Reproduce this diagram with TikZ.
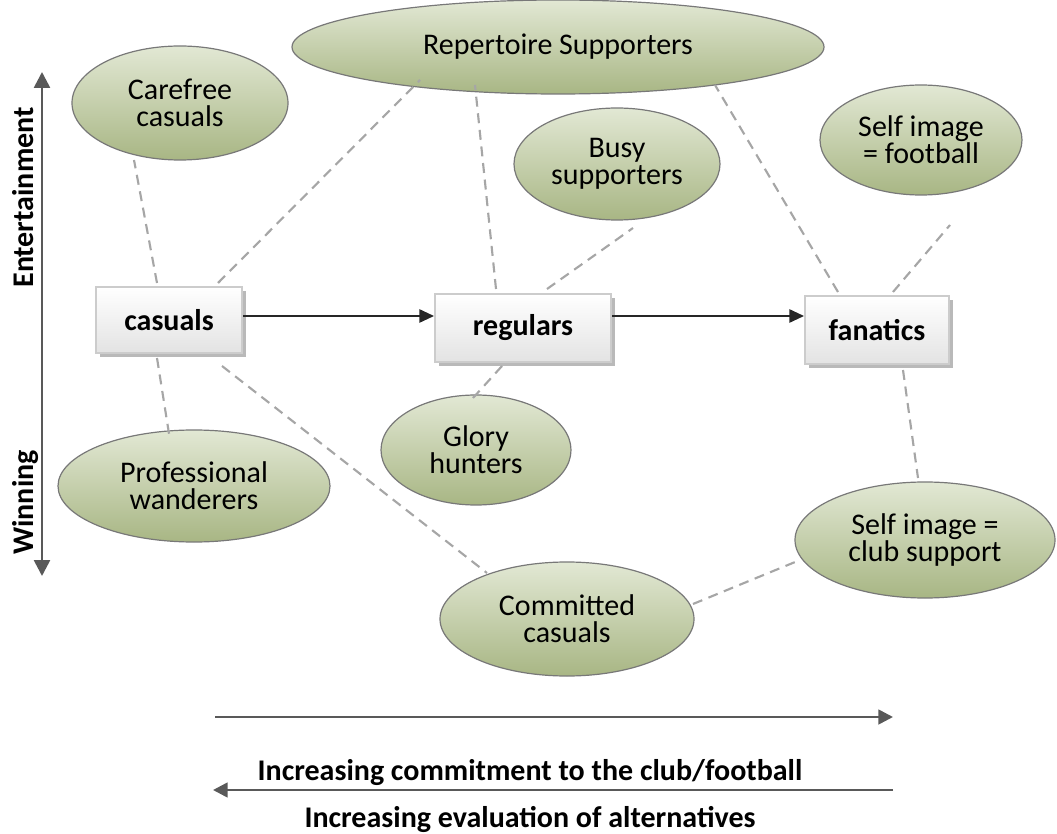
\documentclass[tikz,border=0pt]{standalone}
\usepackage{fontspec}
\setmainfont{Carlito}
\usetikzlibrary{shapes.geometric,arrows.meta,shadows}
\definecolor{segtop}{RGB}{226,232,212}
\definecolor{segbot}{RGB}{168,182,132}
\definecolor{segedge}{RGB}{120,120,120}
\definecolor{linkgray}{RGB}{166,166,166}
\definecolor{axisgray}{RGB}{89,89,89}
\begin{document}
\begin{tikzpicture}[x=0.75pt,y=-0.75pt,
  seg/.style={ellipse,draw=segedge,line width=0.9pt,top color=segtop,bottom color=segbot,
     shading angle=0,inner sep=0pt,align=center,font=\fontsize{22.5}{20.5}\selectfont},
  stage/.style={rectangle,draw=gray!40,line width=1.5pt,top color=white,bottom color=gray!22,
     font=\bfseries\fontsize{22.5}{24}\selectfont,
     drop shadow={shadow xshift=3pt,shadow yshift=-3pt,fill=gray!55,opacity=1}},
  link/.style={draw=linkgray,line width=1.6pt,dash pattern=on 7.5pt off 5pt},
  flow/.style={draw=gray!30!black,line width=1.3pt,-{Triangle[length=11pt,width=10pt]}},
  axis/.style={draw=axisgray,line width=2pt},
  axtext/.style={inner sep=0pt,font=\bfseries\fontsize{22.5}{24}\selectfont}]
\useasboundingbox (0,0) rectangle (1057,834);

% segment ellipses
\node[seg,minimum width=162pt,minimum height=85.5pt] (care) at (180,103) {Carefree\\casuals};
\node[seg,minimum width=399pt,minimum height=70.5pt] (rep) at (558,47) {Repertoire Supporters};
\node[seg,minimum width=154.5pt,minimum height=84pt] (busy) at (617,164) {Busy\\supporters};
\node[seg,minimum width=151.5pt,minimum height=82.5pt] (selff) at (921,140) {Self image\\= football};
\node[seg,minimum width=142.5pt,minimum height=82.5pt] (glory) at (476,450) {Glory\\hunters};
\node[seg,minimum width=204pt,minimum height=84pt] (prof) at (194,486) {Professional\\wanderers};
\node[seg,minimum width=195pt,minimum height=87pt] (selfc) at (925,540) {Self image =\\club support};
\node[seg,minimum width=190.5pt,minimum height=85.5pt] (comm) at (567,619) {Committed\\casuals};

% stage boxes
\node[stage,minimum width=110pt,minimum height=49pt] (cas) at (169,320) {casuals};
\node[stage,minimum width=132pt,minimum height=51pt] (reg) at (523,328) {regulars};
\node[stage,minimum width=108pt,minimum height=51pt] (fan) at (877,330) {fanatics};

% dashed links between stages and segments
\coordinate (c1) at (157,283);  \coordinate (c1e) at (134,160);
\coordinate (c2) at (218,283);  \coordinate (c2e) at (420,80);
\coordinate (c3) at (157,358);  \coordinate (c3e) at (170,440);
\coordinate (c4) at (222,366);  \coordinate (c4e) at (487,573);
\coordinate (r1) at (496,289);  \coordinate (r1e) at (475,85);
\coordinate (r2) at (547,289);  \coordinate (r2e) at (633,228);
\coordinate (r3) at (502,366);  \coordinate (r3e) at (473,398);
\coordinate (f1) at (838,292);  \coordinate (f1e) at (715,85);
\coordinate (f2) at (893,292);  \coordinate (f2e) at (950,225);
\coordinate (f3) at (903,370);  \coordinate (f3e) at (918,478);
\coordinate (m1) at (693,604);  \coordinate (m1e) at (800,560);
\foreach \s/\e in {c1/c1e,c2/c2e,c3/c3e,c4/c4e,r1/r1e,r2/r2e,r3/r3e,f1/f1e,f2/f2e,f3/f3e,m1/m1e}
  \draw[link] (\s) -- (\e);

% progression between stages
\draw[flow] ([yshift=3pt]cas.east) -- ([yshift=3pt]cas.east -| reg.west);
\draw[flow] ([yshift=9pt]reg.east) -- ([yshift=9pt]reg.east -| fan.west);

% vertical axis
\coordinate (vt) at (42,72);
\coordinate (vb) at (42,576);
\draw[axis,{Triangle[length=12pt,width=12pt]}-{Triangle[length=12pt,width=12pt]}] (vt) -- (vb);
\node[axtext,rotate=90,anchor=base east] (ent) at (33,107) {Entertainment};
\node[axtext,rotate=90,anchor=base west] (win) at (33,555) {Winning};

% horizontal axes
\coordinate (h1s) at (215,717);
\coordinate (h1e) at (893,717);
\coordinate (h2s) at (893,790);
\coordinate (h2e) at (213,790);
\draw[axis,-{Triangle[length=11pt,width=11pt]}] (h1s) -- (h1e);
\draw[axis,-{Triangle[length=11pt,width=11pt]}] (h2s) -- (h2e);
\node[axtext] (commit) at (530,773) {Increasing commitment to the club/football};
\node[axtext] (evalt) at (530,819) {Increasing evaluation of alternatives};
\end{tikzpicture}
\end{document}
